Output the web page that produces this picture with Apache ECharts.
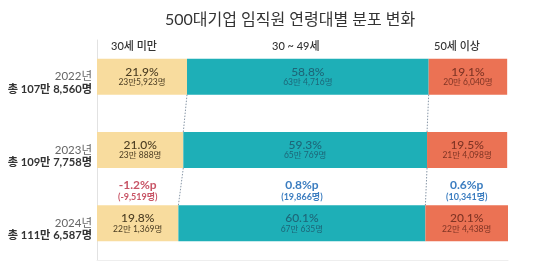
<!DOCTYPE html>
<html><head><meta charset="utf-8">
<script src="https://cdn.jsdelivr.net/npm/echarts@6/dist/echarts.min.js"></script>
<style>html,body{margin:0;padding:0;background:#fff}#c{width:533px;height:261px}</style>
</head><body><div id="c"></div>
<script>
const title = '500대기업 임직원 연령대별 분포 변화';
const years = ['2022년', '2023년', '2024년'];
const totals = ['총 107만 8,560명', '총 109만 7,758명', '총 111만 6,587명'];
const groups = ['30세 미만', '30 ~ 49세', '50세 이상'];
const under30Pct = [21.9, 21.0, 19.8];
const under30Cnt = ['23만5,923명', '23만 888명', '22만 1,369명'];
const midPct = [58.8, 59.3, 60.1];
const midCnt = ['63만 4,716명', '65만 769명', '67만 635명'];
const over50Pct = [19.1, 19.5, 20.1];
const over50Cnt = ['20만 6,040명', '21만 4,098명', '22만 4,438명'];
const deltaPct = ['-1.2%p', '0.8%p', '0.6%p'];
const deltaCnt = ['(-9,519명)', '(19,866명)', '(10,341명)'];

const FONT = "Lato, 'Noto Sans CJK KR', sans-serif";
const BAR_H = 36;
const pcts = [under30Pct, midPct, over50Pct];
const cnts = [under30Cnt, midCnt, over50Cnt];
const colors = ['#f8dc9e', '#1eafb7', '#eb7254'];
const textColors = ['#4b3d22', '#1d6678', '#7f3424'];

const chart = echarts.init(document.getElementById('c'), null, {renderer: 'canvas'});

const barSeries = pcts.map((arr, k) => ({
  type: 'bar', stack: 'all', barWidth: BAR_H, silent: true,
  data: arr,
  itemStyle: {color: colors[k]},
  label: {
    show: true, position: 'inside',
    formatter: p => '{a|' + arr[p.dataIndex].toFixed(1) + '%}\n{b|' + cnts[k][p.dataIndex] + '}',
    rich: {
      a: {fontFamily: FONT, fontSize: 12, fontWeight: 500, color: textColors[k], lineHeight: 11, align: 'center'},
      b: {fontFamily: FONT, fontSize: 8.5, color: textColors[k], lineHeight: 10, align: 'center'}
    }
  }
}));

const cumA = under30Pct;
const cumB = under30Pct.map((v, i) => v + midPct[i]);
const connData = [];
for (let i = 0; i < years.length - 1; i++) {
  connData.push([cumA[i], cumA[i + 1], i]);
  connData.push([cumB[i], cumB[i + 1], i]);
}
const connSeries = {
  type: 'custom', silent: true, z: 5,
  data: connData,
  encode: {x: [0, 1], y: 2},
  renderItem: (params, api) => {
    const i = api.value(2);
    const p1 = api.coord([api.value(0), i]);
    const p2 = api.coord([api.value(1), i + 1]);
    return {
      type: 'line',
      shape: {x1: p1[0], y1: p1[1] + BAR_H / 2, x2: p2[0], y2: p2[1] - BAR_H / 2},
      style: {stroke: '#8796a6', lineWidth: 1, lineDash: [1.5, 1.5]}
    };
  }
};

const last = years.length - 1;
const segStart = [0, cumA[last], cumB[last]];
const segEnd = [cumA[last], cumB[last], cumB[last] + over50Pct[last]];
const deltaData = groups.map((g, k) => [(segStart[k] + segEnd[k]) / 2, last, k]);
const deltaSeries = {
  type: 'custom', silent: true, z: 6,
  data: deltaData,
  encode: {x: 0, y: 1},
  renderItem: (params, api) => {
    const k = api.value(2);
    const pA = api.coord([api.value(0), api.value(1) - 1]);
    const pB = api.coord([api.value(0), api.value(1)]);
    const neg = deltaPct[k].startsWith('-');
    const col = neg ? '#c85466' : '#3b7dc0';
    return {
      type: 'text',
      x: pA[0], y: (pA[1] + pB[1]) / 2 + 4,
      style: {
        text: '{a|' + deltaPct[k] + '}\n{b|' + deltaCnt[k] + '}',
        align: 'center', verticalAlign: 'middle',
        rich: {
          a: {fontFamily: FONT, fontSize: 12, fontWeight: 'bold', fill: col, lineHeight: 12},
          b: {fontFamily: FONT, fontSize: 9, fontWeight: 'bold', fill: col, lineHeight: 12}
        }
      }
    };
  }
};

chart.setOption({
  animation: false,
  title: {
    text: title, left: 160, top: 7,
    textStyle: {fontFamily: FONT, fontSize: 16, fontWeight: 'normal', color: '#333'}
  },
  grid: {left: 97, right: 25, top: 40, bottom: 1, containLabel: false},
  xAxis: {
    type: 'value', min: 0, max: 100,
    axisLine: {show: true, lineStyle: {color: '#eeeeee'}},
    axisTick: {show: false}, axisLabel: {show: false}, splitLine: {show: false}
  },
  yAxis: {
    type: 'category', inverse: true, data: years,
    axisLine: {show: true, lineStyle: {color: '#e2e2e2'}},
    axisTick: {show: false},
    axisLabel: {
      margin: 5, align: 'right', padding: [13, 0, 0, 0],
      formatter: (v, i) => '{y|' + v + '}\n{t|' + totals[i] + '}',
      rich: {
        y: {fontFamily: FONT, fontSize: 11.5, color: '#666', lineHeight: 12, align: 'right'},
        t: {fontFamily: FONT, fontSize: 11.2, fontWeight: 'bold', color: '#333', lineHeight: 13, align: 'right'}
      }
    }
  },
  graphic: [
    {type: 'text', left: 111, top: 41, style: {text: groups[0], fontFamily: FONT, fontSize: 11, fontWeight: 500, fill: '#333'}},
    {type: 'text', left: 272, top: 41, style: {text: groups[1], fontFamily: FONT, fontSize: 11, fontWeight: 500, fill: '#333'}},
    {type: 'text', left: 434, top: 41, style: {text: groups[2], fontFamily: FONT, fontSize: 11, fontWeight: 500, fill: '#333'}}
  ],
  series: [...barSeries, connSeries, deltaSeries]
});
</script>
</body></html>
